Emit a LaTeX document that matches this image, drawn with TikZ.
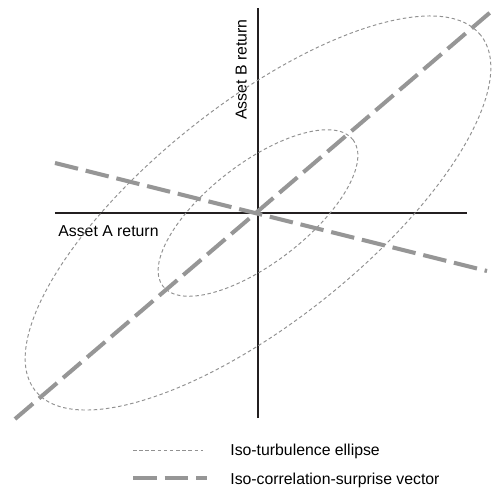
\documentclass[tikz,border=0pt]{standalone}
\usepackage{fontspec}
\setmainfont{Liberation Sans}
\usepackage{tikz}
\usetikzlibrary{positioning}
\definecolor{axisc}{RGB}{35,31,32}
\definecolor{isoc}{RGB}{145,145,145}
\definecolor{vecc}{RGB}{150,150,150}
\tikzset{
  axisline/.style={axisc, line width=1.1pt},
  isoline/.style={isoc, line width=0.55pt, dash pattern=on 2pt off 1.5pt},
  vecline/.style={vecc, line width=2.3pt, dash pattern=on 13.5pt off 4.5pt}
}
\begin{document}
\begin{tikzpicture}[every node/.style={font=\fontsize{9}{10}\selectfont, inner sep=0pt}]
  \useasboundingbox (-5.16,-5.52) rectangle (4.72,4.26);
  % axes
  \coordinate (xl) at (-4.06,0); \coordinate (xr) at (4.18,0);
  \coordinate (yb) at (0,-4.10); \coordinate (yt) at (0,4.10);
  \draw[axisline] (xl) -- (xr);
  \draw[axisline] (yb) -- (yt);
  \node[anchor=base west] (alabel) at (-4.0,-0.46) {Asset A return};
  \node[anchor=base west, rotate=90] (blabel) at (-0.23,1.86) {Asset B return};
  % iso-turbulence ellipses
  \draw[isoline, rotate=38.6] (0,0) ellipse (5.7 and 2.17);
  \draw[isoline, rotate=37.6] (0,0) ellipse (2.4 and 1.0);
  % iso-correlation-surprise vectors
  \coordinate (d1) at (-4.86,-4.12); \coordinate (d2) at (4.70,4.06);
  \coordinate (s1) at (-4.06,1.00); \coordinate (s2) at (4.58,-1.16);
  \draw[vecline] (d1) -- (d2);
  \draw[vecline] (s1) -- (s2);
  % legend
  \node[anchor=west] (leg1) at (-0.56,-4.76) {Iso-turbulence ellipse};
  \node[anchor=west] (leg2) at (-0.56,-5.34) {Iso-correlation-surprise vector};
  \coordinate (l1) at (-2.50,-4.74); \coordinate (l2) at (-2.50,-5.30);
  \draw[isoline] (l1) -- ++(1.40,0);
  \draw[vecline] (l2) -- ++(1.48,0);
\end{tikzpicture}
\end{document}
